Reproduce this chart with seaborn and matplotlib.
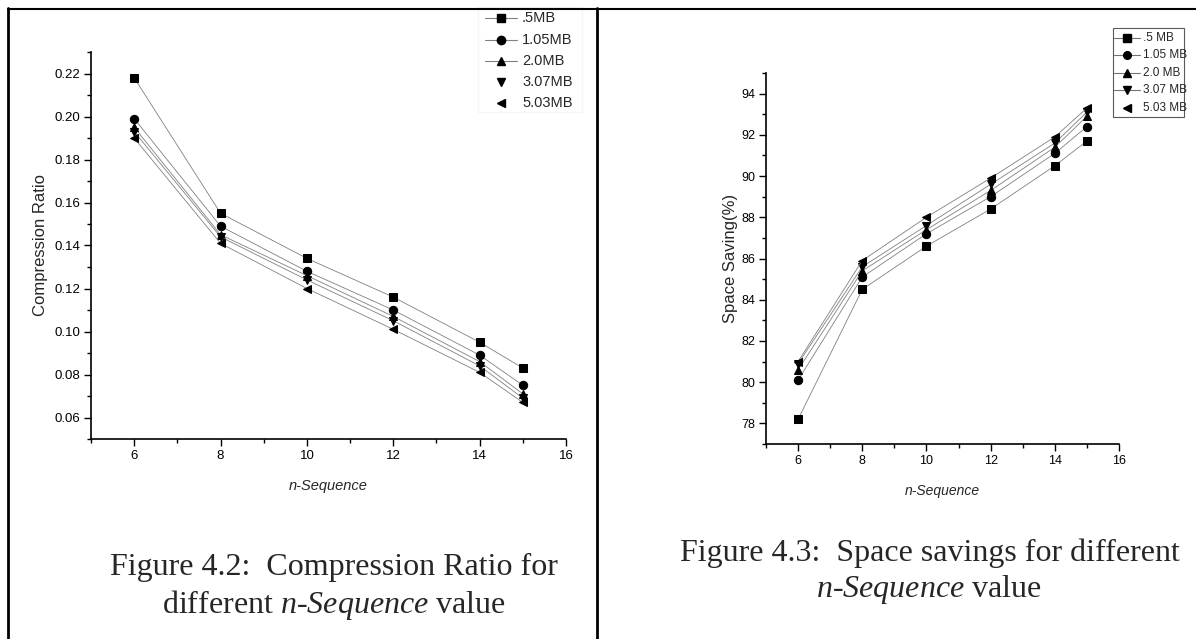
import numpy as np
import pandas as pd
import matplotlib
matplotlib.use("Agg")
import matplotlib.pyplot as plt
from matplotlib.lines import Line2D
from matplotlib.ticker import MultipleLocator
import seaborn as sns

# ---------------- data ----------------
n_seq = [6, 8, 10, 12, 14, 15]

cr_labels = [".5MB", "1.05MB", "2.0MB", "3.07MB", "5.03MB"]
cr_05 = [0.218, 0.155, 0.134, 0.116, 0.095, 0.083]
cr_105 = [0.199, 0.149, 0.128, 0.110, 0.089, 0.075]
cr_20 = [0.195, 0.145, 0.126, 0.107, 0.086, 0.071]
cr_307 = [0.193, 0.144, 0.124, 0.105, 0.084, 0.069]
cr_503 = [0.190, 0.141, 0.120, 0.101, 0.081, 0.067]

ss_labels = [".5 MB", "1.05 MB", "2.0 MB", "3.07 MB", "5.03 MB"]
ss_05 = [78.2, 84.5, 86.6, 88.4, 90.5, 91.7]
ss_105 = [80.1, 85.1, 87.2, 89.0, 91.1, 92.4]
ss_20 = [80.6, 85.4, 87.4, 89.3, 91.4, 92.9]
ss_307 = [80.9, 85.6, 87.6, 89.6, 91.6, 93.1]
ss_503 = [81.0, 85.9, 88.0, 89.9, 91.9, 93.3]

xticks = [6, 8, 10, 12, 14, 16]
cr_yticks = [0.06, 0.08, 0.10, 0.12, 0.14, 0.16, 0.18, 0.20, 0.22]
ss_yticks = [78, 80, 82, 84, 86, 88, 90, 92, 94]

marker_list = ["s", "o", "^", "v", "<"]


def long_df(labels, series):
    rows = []
    for lab, vals in zip(labels, series):
        for x, v in zip(n_seq, vals):
            rows.append({"n": x, "value": v, "size": lab})
    return pd.DataFrame(rows)


cr_df = long_df(cr_labels, [cr_05, cr_105, cr_20, cr_307, cr_503])
ss_df = long_df(ss_labels, [ss_05, ss_105, ss_20, ss_307, ss_503])

# ---------------- style ----------------
sns.set_style("ticks")
plt.rcParams["font.family"] = ["Liberation Sans", "DejaVu Sans"]
plt.rcParams["mathtext.fontset"] = "custom"
plt.rcParams["mathtext.rm"] = "Liberation Serif"
plt.rcParams["mathtext.it"] = "Liberation Serif:italic"

W, H = 1196, 639
fig = plt.figure(figsize=(W / 100, H / 100), dpi=100)
fig.patch.set_facecolor("white")


def px_axes(x0, y0, x1, y1):
    return fig.add_axes([x0 / W, 1 - y1 / H, (x1 - x0) / W, (y1 - y0) / H])


def style_axes(ax, xlim, ylim, yticks, ymin_step, yfmt, lsize):
    ax.set_xlim(*xlim)
    ax.set_ylim(*ylim)
    ax.set_xticks(xticks)
    ax.set_yticks(yticks)
    ax.set_yticklabels([yfmt.format(v) for v in yticks])
    ax.xaxis.set_minor_locator(MultipleLocator(1))
    ax.yaxis.set_minor_locator(MultipleLocator(ymin_step))
    for s in ["top", "right"]:
        ax.spines[s].set_visible(False)
    for s in ["left", "bottom"]:
        ax.spines[s].set_linewidth(1.2)
        ax.spines[s].set_color("black")
    ax.tick_params(which="major", direction="out", length=5, width=1,
                   labelsize=lsize, colors="black", pad=3)
    ax.tick_params(which="minor", direction="out", length=3, width=1,
                   colors="black")
    ax.set_facecolor("white")
    ax.grid(False)


def draw(ax, df, labels):
    sns.lineplot(data=df, x="n", y="value", style="size",
                 style_order=labels, markers=marker_list, dashes=False,
                 color="0.5", linewidth=0.6, markersize=6,
                 markerfacecolor="black", markeredgecolor="black",
                 legend=False, ax=ax, estimator=None, sort=False)


# ---------------- left chart ----------------
axL = px_axes(91, 52, 566, 439)
draw(axL, cr_df, cr_labels)
style_axes(axL, (5, 16), (0.05, 0.23), cr_yticks, 0.01, "{:.2f}", 9.5)
axL.set_xlabel("n-Sequence", fontsize=10.5, style="italic", labelpad=12)
axL.set_ylabel("Compression Ratio", fontsize=12, labelpad=4)

# ---------------- right chart ----------------
axR = px_axes(766, 73, 1119, 444)
draw(axR, ss_df, ss_labels)
style_axes(axR, (5, 16), (77, 95), ss_yticks, 1, "{:.0f}", 9)
axR.set_xlabel("n-Sequence", fontsize=10, style="italic", labelpad=12)
axR.set_ylabel("Space Saving(%)", fontsize=12, labelpad=2)


# ---------------- legends (drawn in figure pixels) ----------------
def fx(x):
    return x / W


def fy(y):
    return 1 - y / H


# ---------------- table borders ----------------
fig.add_artist(Line2D([fx(8), fx(1196)], [fy(8.5), fy(8.5)],
                      color="black", linewidth=1.5))
fig.add_artist(Line2D([fx(8), fx(8)], [fy(8), fy(639)],
                      color="black", linewidth=2))
fig.add_artist(Line2D([fx(597), fx(597)], [fy(8), fy(639)],
                      color="black", linewidth=2))

# left legend
fig.add_artist(plt.Rectangle((fx(478), fy(112)), fx(582) - fx(478),
                             fy(7) - fy(112), fill=True, facecolor="white",
                             edgecolor="0.96", linewidth=0.8))
L_ys = [18, 40, 61, 82, 103]
L_lines = [True, True, True, False, False]
for lab, m, yy, hasline in zip(cr_labels, marker_list, L_ys, L_lines):
    if hasline:
        fig.add_artist(Line2D([fx(485), fx(517)], [fy(yy), fy(yy)],
                              color="0.5", linewidth=0.8))
    fig.add_artist(Line2D([fx(501)], [fy(yy)], marker=m, markersize=6,
                          color="black", linestyle="none"))
    fig.text(fx(522), fy(yy), lab, fontsize=10.5, va="center", ha="left")

# right legend box
fig.add_artist(plt.Rectangle((fx(1113), fy(117)), fx(1184) - fx(1113),
                             fy(28) - fy(117), fill=False,
                             edgecolor="0.35", linewidth=0.8))
R_ys = [38, 55, 73, 90, 108]
R_lines = [True, True, True, True, False]
for lab, m, yy, hasline in zip(ss_labels, marker_list, R_ys, R_lines):
    if hasline:
        fig.add_artist(Line2D([fx(1114), fx(1140)], [fy(yy), fy(yy)],
                              color="0.45", linewidth=0.8))
    fig.add_artist(Line2D([fx(1127)], [fy(yy)], marker=m, markersize=5.5,
                          color="black", linestyle="none"))
    fig.text(fx(1143), fy(yy), lab, fontsize=8.5, va="center", ha="left")

# ---------------- captions ----------------
serif = ["Liberation Serif", "DejaVu Serif"]
cap_fs = 23
fig.text(fx(334), fy(567), "Figure 4.2:  Compression Ratio for",
         fontsize=cap_fs, family=serif, ha="center", va="center")
fig.text(fx(334), fy(605), "different $\\mathit{n}$-$\\mathit{Sequence}$ value",
         fontsize=cap_fs, family=serif, ha="center", va="center")
fig.text(fx(930), fy(553), "Figure 4.3:  Space savings for different",
         fontsize=cap_fs, family=serif, ha="center", va="center")
fig.text(fx(929), fy(590), "$\\mathit{n}$-$\\mathit{Sequence}$ value",
         fontsize=cap_fs, family=serif, ha="center", va="center")

fig.savefig("out.png", dpi=100, facecolor="white")
